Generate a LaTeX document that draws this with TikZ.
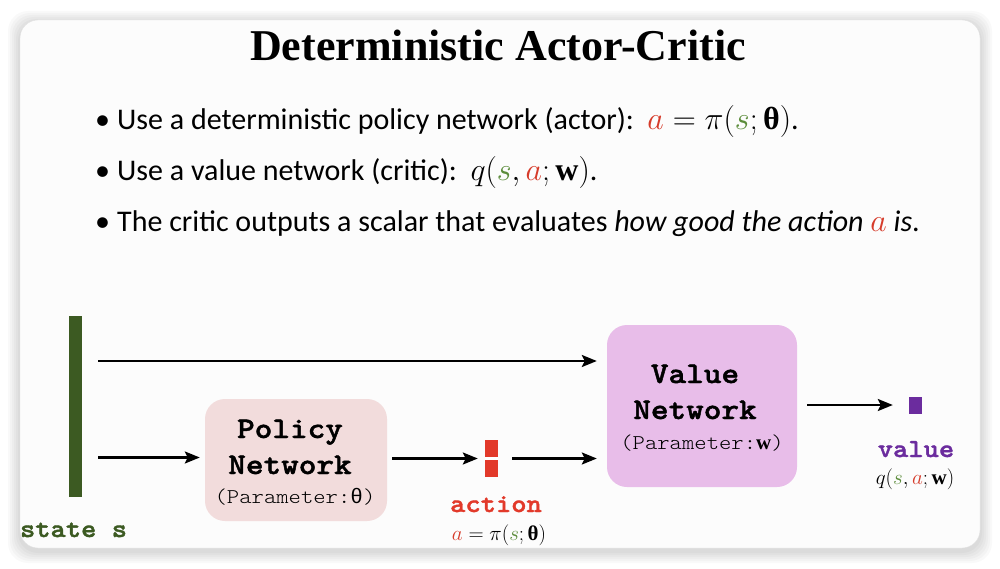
\RequirePackage{fix-cm}
\documentclass[tikz,border=0pt]{standalone}
\usepackage{fontspec}
\usepackage{amsmath}
\setmainfont{Carlito}
\newfontfamily\titlefont{Liberation Serif}
\newfontfamily\monofont{Liberation Mono}
\newfontfamily\cour{lmmonolt10-regular.otf}[BoldFont=lmmonolt10-bold.otf,FakeStretch=1.12,BoldFeatures={FakeBold=1.5}]
\newcommand{\bth}{\text{\titlefont\bfseries θ}}
\newcommand{\bw}{\text{\titlefont\bfseries w}}
\usetikzlibrary{arrows.meta}
\definecolor{sgreen}{HTML}{5B8C3A}
\definecolor{ared}{HTML}{D63B2A}
\definecolor{bargreen}{HTML}{3C5A22}
\definecolor{policyfill}{HTML}{F2DCDC}
\definecolor{valuefill}{HTML}{E8BDE9}
\definecolor{vpurple}{HTML}{6B2C9E}
\definecolor{blockred}{HTML}{E2392A}
\tikzset{
  arr/.style={line width=2.4pt,-{Stealth[length=15pt,width=12pt,inset=3pt]}},
  netbox/.style={rounded corners=20pt,inner sep=0pt},
  nettext/.style={font=\cour\bfseries\fontsize{30}{31}\selectfont,anchor=base},
  partext/.style={font=\cour\fontsize{21}{22}\selectfont,anchor=base},
  bullet/.style={anchor=base west,inner sep=0pt,font=\fontsize{30}{32}\selectfont},
  lbl/.style={font=\cour\bfseries\fontsize{26}{27}\selectfont,anchor=base,inner sep=0pt},
  mathlbl/.style={font=\fontsize{21}{22}\selectfont,anchor=base,inner sep=0pt}
}
\newcommand{\bigmath}{\fontsize{32}{34}\selectfont}
\begin{document}
\begin{tikzpicture}[x=1pt,y=-1pt]
\useasboundingbox (0,0) rectangle (1000,569);
\fill[white] (0,0) rectangle (1000,569);
% shadow
\foreach \r in {12,10,8,6,4,2}{
  \fill[black,opacity=0.025,rounded corners=20pt] (20-\r,20-\r+3) rectangle (980+\r,548+\r+3);
}
\node[draw=black!12,fill=white!99!black,rounded corners=18pt,minimum width=960pt,minimum height=528pt,inner sep=0pt] (card) at (500,284) {};
% title
\node[anchor=base,inner sep=0pt,font=\titlefont\bfseries\fontsize{44}{48}\selectfont] (title) at (498,61) {Deterministic Actor-Critic};
% bullets
\node[bullet] (b1) at (95,130) {\makebox[22pt][l]{•}Use a deterministic policy network (actor):\ \ {\bigmath$\textcolor{ared}{a}=\pi(\textcolor{sgreen}{s};\bth)$}.};
\node[bullet] (b2) at (95,181) {\makebox[22pt][l]{•}Use a value network (critic):\ \ {\bigmath$q(\textcolor{sgreen}{s},\textcolor{ared}{a};\bw)$}.};
\node[bullet] (b3) at (95,232) {\makebox[22pt][l]{•}The critic outputs a scalar that evaluates \textit{how good the action {\bigmath\textcolor{ared}{$a$}} is}.};
% state bar
\node[fill=bargreen,minimum width=13pt,minimum height=181pt,inner sep=0pt] (state) at (75.5,406.5) {};
\node[lbl,text=bargreen] (statelbl) at (73.5,537) {state s};
\coordinate (s1) at (98,361);
\coordinate (s2) at (98,457.5);
% policy network
\node[netbox,fill=policyfill,minimum width=182pt,minimum height=122pt] (policy) at (296,460) {};
\node[nettext] (pol1) at (290,438) {Policy};
\node[nettext] (pol2) at (290,474) {Network};
\node[partext] (pol3) at (295,503) {(Parameter:{\monofont θ})};
% value network
\node[netbox,fill=valuefill,minimum width=190pt,minimum height=162pt] (value) at (702,406) {};
\node[nettext] (val1) at (695,383) {Value};
\node[nettext] (val2) at (695,419) {Network};
\node[partext] (val3) at (702,449) {(Parameter:{\titlefont\bfseries w})};
% action block
\node[fill=blockred,minimum width=13pt,minimum height=37pt,inner sep=0pt] (action) at (491.5,458.5) {};
\draw[white,line width=2.5pt] (action.west) -- (action.east);
\node[lbl,text=blockred] (actlbl) at (496,512) {action};
\node[mathlbl] (actmath) at (499,540) {$\textcolor{ared}{a}=\pi(\textcolor{sgreen}{s};\bth)$};
% value output
\node[fill=vpurple,minimum width=13pt,minimum height=17pt,inner sep=0pt] (qout) at (915.5,405) {};
\node[lbl,text=vpurple] (vallbl) at (916,457) {value};
\node[mathlbl] (valmath) at (915,484) {$q(\textcolor{sgreen}{s},\textcolor{ared}{a};\bw)$};
% arrows
\draw[arr,shorten >=10pt] (s1) -- (s1 -| value.west);
\draw[arr,shorten >=5pt] (s2) -- (s2 -| policy.west);
\draw[arr,shorten <=5pt,shorten >=7pt] (policy.east |- action) -- (action.west);
\draw[arr,shorten <=14pt,shorten >=10pt] (action.east) -- (action -| value.west);
\draw[arr,shorten <=10pt,shorten >=16pt] (value.east |- qout) -- (qout.west);
\end{tikzpicture}
\end{document}
